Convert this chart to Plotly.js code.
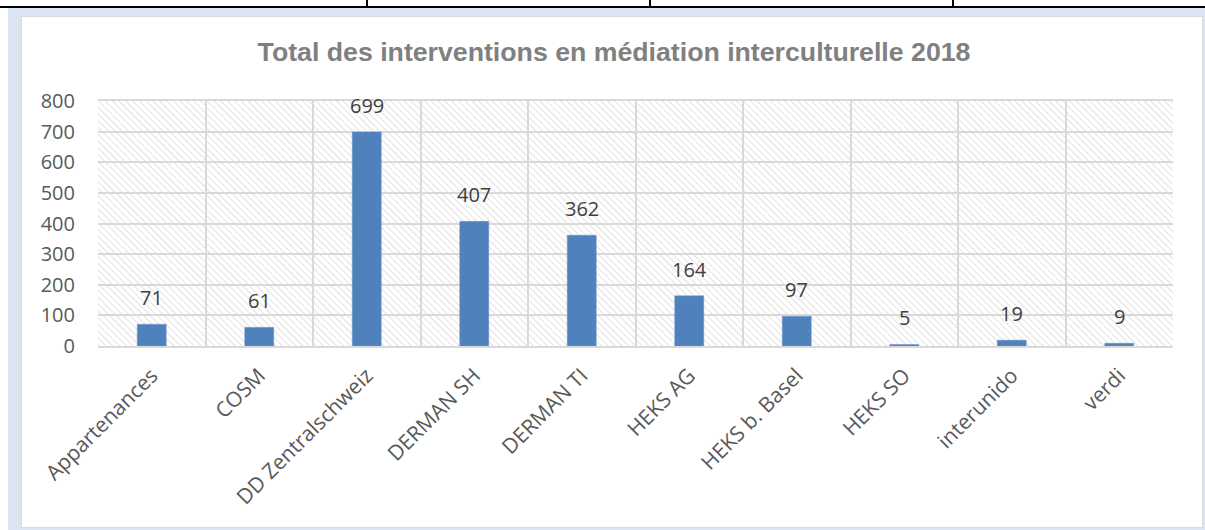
<!DOCTYPE html>
<html>
<head>
<meta charset="utf-8">
<script src="https://cdn.plot.ly/plotly-3.0.1.min.js"></script>
<style>
  html, body { margin: 0; padding: 0; background: #ffffff; }
  #wrap { position: relative; width: 1205px; height: 530px; overflow: hidden; background: #ffffff; }
  #topline { position: absolute; left: 0; top: 6px; width: 1205px; height: 2px; background: #000; }
  .vline { position: absolute; top: 0; width: 2px; height: 7px; background: #000; }
  #frame { position: absolute; left: 8px; top: 8px; width: 1197px; height: 522px; background: #dbe5f1; }
  #inner { position: absolute; left: 21px; top: 16px; width: 1180px; height: 510px; background: #fff; border: 1px solid #d9d9d9; }
  #chart { position: absolute; left: 0; top: 0; width: 1205px; height: 530px; }
</style>
</head>
<body>
<div id="wrap">
  <div id="topline"></div>
  <div class="vline" style="left:366px"></div>
  <div class="vline" style="left:649px"></div>
  <div class="vline" style="left:952px"></div>
  <div id="frame"></div>
  <div id="inner"></div>
  <div id="chart"></div>
</div>
<script>
const chartTitle = "Total des interventions en médiation interculturelle 2018";
const categories = ["Appartenances", "COSM", "DD Zentralschweiz", "DERMAN SH", "DERMAN TI", "HEKS AG", "HEKS b. Basel", "HEKS SO", "interunido", "verdi"];
const interventions = [71, 61, 699, 407, 362, 164, 97, 5, 19, 9];
const yTickValues = [0, 100, 200, 300, 400, 500, 600, 700, 800];

const W = 1075, H = 245;
const P = 4.8;
const hatchSvg = '<svg xmlns="http://www.w3.org/2000/svg" width="' + W + '" height="' + H + '">' +
  '<defs><pattern id="p" width="' + P + '" height="' + P + '" patternUnits="userSpaceOnUse" patternTransform="rotate(-45)">' +
  '<line x1="0" y1="0" x2="0" y2="' + P + '" stroke="#d2d2d2" stroke-width="1.3"/></pattern></defs>' +
  '<rect width="' + W + '" height="' + H + '" fill="#ffffff"/>' +
  '<rect width="' + W + '" height="' + H + '" fill="url(#p)"/></svg>';
const hatchUri = "data:image/svg+xml;base64," + btoa(hatchSvg);

const trace = {
  type: "bar",
  x: categories,
  y: interventions,
  marker: { color: "#4f81bd", line: { color: "#6d97cc", width: 0.5 } },
  hoverinfo: "x+y"
};

const annotations = categories.map((c, i) => ({
  x: c, y: interventions[i], xref: "x", yref: "y",
  text: String(interventions[i]),
  showarrow: false, yanchor: "bottom", yshift: 11,
  font: { family: "Open Sans, sans-serif", size: 20, color: "#404040" }
}));

const layout = {
  width: 1205, height: 530,
  margin: { l: 98, r: 32, t: 101, b: 184 },
  paper_bgcolor: "rgba(0,0,0,0)",
  plot_bgcolor: "rgba(0,0,0,0)",
  showlegend: false,
  bargap: 0.73,
  title: {
    text: chartTitle,
    font: { family: "Liberation Sans, Arial, sans-serif", size: 26.7, color: "#808080", weight: "bold" },
    x: 614 / 1205, xanchor: "center", xref: "container",
    y: 1 - 52 / 530, yanchor: "middle", yref: "container"
  },
  xaxis: {
    type: "category",
    tickangle: -45,
    tickson: "boundaries",
    showgrid: true, gridcolor: "#d9d9d9", gridwidth: 2,
    showline: true, linecolor: "#d9d9d9", linewidth: 2, mirror: true,
    ticks: "", ticklabelstandoff: 7,
    tickfont: { family: "Open Sans, sans-serif", size: 21, color: "#595959" },
    fixedrange: true
  },
  yaxis: {
    range: [0, 800],
    tickvals: yTickValues,
    showgrid: true, gridcolor: "#d9d9d9", gridwidth: 2,
    zeroline: false,
    showline: false,
    ticks: "", ticklabelstandoff: 22,
    tickfont: { family: "Open Sans, sans-serif", size: 20, color: "#595959" },
    fixedrange: true
  },
  images: [{
    source: hatchUri, xref: "paper", yref: "paper",
    x: 0, y: 1, sizex: 1, sizey: 1, xanchor: "left", yanchor: "top",
    sizing: "stretch", layer: "below"
  }],
  annotations: annotations
};

Plotly.newPlot("chart", [trace], layout, { displayModeBar: false });
</script>
</body>
</html>
